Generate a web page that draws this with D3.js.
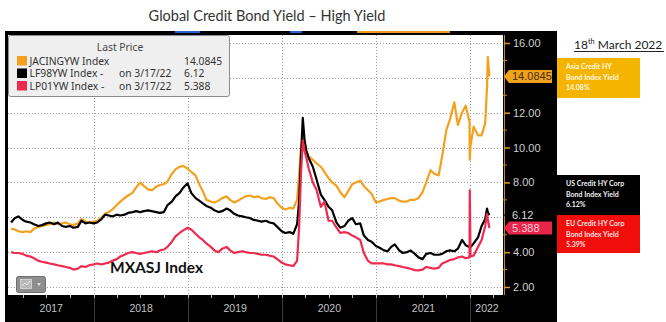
<!DOCTYPE html>
<html>
<head>
<meta charset="utf-8">
<script src="https://cdn.jsdelivr.net/npm/d3@7"></script>
<style>
  html, body { margin: 0; padding: 0; background: #fff; }
  svg { display: block; }
</style>
</head>
<body>
<svg id="chart" width="666" height="322"></svg>
<script>
// Semi-monthly observations, Feb 2017 – 17 Mar 2022
const dates = [
  "2017-02-15","2017-03-01","2017-03-15","2017-04-01","2017-04-15","2017-05-01","2017-05-15","2017-06-01","2017-06-15","2017-07-01","2017-07-15","2017-08-01","2017-08-15","2017-09-01","2017-09-15","2017-10-01","2017-10-15","2017-11-01","2017-11-15","2017-12-01","2017-12-15",
  "2018-01-01","2018-01-15","2018-02-01","2018-02-15","2018-03-01","2018-03-15","2018-04-01","2018-04-15","2018-05-01","2018-05-15","2018-06-01","2018-06-15","2018-07-01","2018-07-15","2018-08-01","2018-08-15","2018-09-01","2018-09-15","2018-10-01","2018-10-15","2018-11-01","2018-11-15","2018-12-01","2018-12-15",
  "2019-01-01","2019-01-15","2019-02-01","2019-02-15","2019-03-01","2019-03-15","2019-04-01","2019-04-15","2019-05-01","2019-05-15","2019-06-01","2019-06-15","2019-07-01","2019-07-15","2019-08-01","2019-08-15","2019-09-01","2019-09-15","2019-10-01","2019-10-15","2019-11-01","2019-11-15","2019-12-01","2019-12-15",
  "2020-01-01","2020-01-15","2020-02-01","2020-02-15","2020-03-01","2020-03-09","2020-03-16","2020-03-23","2020-03-30","2020-04-06","2020-04-15","2020-05-01","2020-05-15","2020-06-01","2020-06-15","2020-07-01","2020-07-15","2020-08-01","2020-08-15","2020-09-01","2020-09-15","2020-10-01","2020-10-15","2020-11-01","2020-11-15","2020-12-01","2020-12-15",
  "2021-01-01","2021-01-15","2021-02-01","2021-02-15","2021-03-01","2021-03-15","2021-04-01","2021-04-15","2021-05-01","2021-05-15","2021-06-01","2021-06-15","2021-07-01","2021-07-15","2021-08-01","2021-08-15","2021-09-01","2021-09-15","2021-10-01","2021-10-15","2021-11-01","2021-11-15","2021-12-01","2021-12-15","2021-12-30","2021-12-31",
  "2022-01-03","2022-01-15","2022-02-01","2022-02-15","2022-03-01","2022-03-08","2022-03-11","2022-03-17"
];

// JACINGYW Index – Asia credit HY yield
const asiaHY = [
  5.35,5.3,5.2,5.15,5.2,5.15,5.35,5.45,5.5,5.55,5.6,5.7,5.6,5.65,5.7,5.6,5.55,5.65,5.9,5.75,5.7,
  5.75,5.8,6.0,6.2,6.3,6.45,6.7,6.9,7.1,7.25,7.4,7.7,8.0,7.8,7.6,7.55,7.75,7.85,7.9,8.05,8.5,8.75,8.9,8.95,
  8.8,8.6,8.4,7.9,7.5,7.0,6.9,6.85,6.95,7.1,7.2,7.0,6.85,6.95,7.1,7.2,7.25,7.15,7.2,7.1,7.05,7.15,7.1,6.8,
  6.55,6.45,6.55,6.5,7.0,8.5,10.0,10.6,10.4,9.8,9.5,9.3,9.1,8.9,8.6,8.25,8.0,7.8,7.45,7.15,7.5,7.9,8.0,8.1,7.8,7.55,7.35,
  6.85,6.9,7.0,7.05,7.1,7.1,6.95,6.9,6.9,7.0,7.0,7.1,7.45,8.0,8.7,8.5,8.4,9.5,11.0,11.6,12.6,11.3,12.0,12.4,11.5,9.3,
  10.1,11.2,10.7,10.7,11.4,13.5,15.2,14.0845
];

// LF98YW Index – US corporate HY yield
const usHY = [
  5.7,5.95,6.05,5.85,5.75,5.7,5.6,5.5,5.55,5.65,5.7,5.6,5.7,5.5,5.45,5.5,5.4,5.45,5.8,5.65,5.7,
  5.65,5.7,5.9,6.15,6.1,6.05,6.15,6.1,6.15,6.25,6.3,6.35,6.3,6.35,6.4,6.35,6.3,6.25,6.3,6.7,6.9,7.2,7.4,7.7,
  7.95,7.4,7.1,6.95,6.8,6.65,6.55,6.4,6.3,6.35,6.5,6.4,6.2,6.1,6.05,6.0,5.95,5.85,5.8,5.75,5.8,5.7,5.65,5.45,
  5.2,5.1,5.15,5.05,5.6,7.0,9.5,11.7,10.4,9.8,9.4,8.9,8.2,7.3,7.0,6.6,6.4,5.7,5.4,5.5,5.8,5.95,5.6,5.65,4.95,4.7,4.6,
  4.35,4.25,4.1,4.05,4.3,4.45,4.1,3.95,4.0,4.1,3.9,3.7,3.6,3.9,3.95,3.85,3.85,3.9,4.05,4.1,4.05,4.2,4.7,4.4,4.3,4.3,
  4.3,4.5,4.85,5.5,5.9,6.5,6.3,6.12
];

// LP01YW Index – EU corporate HY yield
const euHY = [
  4.0,3.95,3.95,3.9,3.8,3.75,3.65,3.5,3.45,3.4,3.35,3.3,3.25,3.2,3.15,3.1,3.0,3.05,3.2,3.15,3.25,
  3.3,3.35,3.3,3.35,3.4,3.5,3.6,3.75,3.85,3.95,4.0,3.95,3.9,3.95,4.0,4.05,4.0,4.1,4.15,4.3,4.6,4.9,5.1,5.25,
  5.4,5.3,5.05,4.85,4.7,4.5,4.3,4.1,4.0,4.2,4.3,4.1,3.95,4.0,4.05,4.0,3.95,3.95,3.9,3.85,3.85,3.8,3.75,3.6,
  3.4,3.3,3.25,3.2,3.5,5.5,8.5,10.4,9.8,9.4,8.8,8.0,7.6,6.6,6.9,5.8,5.8,5.4,5.1,5.15,5.1,4.95,4.85,4.7,3.95,3.5,3.35,
  3.35,3.35,3.35,3.3,3.3,3.25,3.2,3.15,3.1,3.05,2.97,2.95,3.0,3.15,3.1,3.05,3.1,3.35,3.45,3.55,3.6,3.7,3.75,3.65,3.7,7.55,
  3.75,3.8,4.3,4.7,5.5,6.2,5.9,5.388
];

const yearLabels = ["2017","2018","2019","2020","2021","2022"];
const yTicks = [2, 4, 8, 10, 12, 16];
const gridValues = [2, 4, 6, 8, 10, 12, 14, 16];

const seriesNames = ["JACINGYW Index", "LF98YW Index -", "LP01YW Index -"];
const seriesDates = ["", "on 3/17/22", "on 3/17/22"];
const lastValues = ["14.0845", "6.12", "5.388"];
const colors = ["#f3a11c", "#000000", "#ef2a4f"];

const parse = d3.timeParse("%Y-%m-%d");
const svg = d3.select("#chart");

// Plot frame geometry
const plot = { left: 8, right: 503, top: 35, bottom: 295 };

const x = d3.scaleTime()
  .domain([parse("2017-02-03"), parse("2022-05-09")])
  .range([plot.left, plot.right]);
const y = d3.scaleLinear().domain([2, 16]).range([287, 43]);

// Title
svg.append("text")
  .attr("x", 267).attr("y", 21)
  .attr("text-anchor", "middle")
  .attr("font-family", "Lato, 'Open Sans', sans-serif")
  .attr("font-size", 14.5)
  .attr("fill", "#333")
  .text("Global Credit Bond Yield \u2013 High Yield");

// Black terminal frame
svg.append("rect").attr("x", 5).attr("y", 31).attr("width", 552).attr("height", 291).attr("fill", "#000");
// Tab highlights along the top edge
[[175, 200, "#2f5fd0"], [290, 302, "#2f5fd0"], [357, 450, "#e89a1c"]].forEach(([a, b, c]) => {
  svg.append("rect").attr("x", a).attr("y", 31).attr("width", b - a).attr("height", 2).attr("fill", c);
});

// Plot area
svg.append("rect")
  .attr("x", plot.left).attr("y", plot.top)
  .attr("width", plot.right - plot.left).attr("height", plot.bottom - plot.top)
  .attr("fill", "#fff");

svg.append("clipPath").attr("id", "clip")
  .append("rect")
  .attr("x", plot.left).attr("y", plot.top)
  .attr("width", plot.right - plot.left).attr("height", plot.bottom - plot.top);

// Grid
const yearStarts = d3.timeYear.range(parse("2018-01-01"), parse("2022-01-02"));
const grid = svg.append("g").attr("clip-path", "url(#clip)")
  .attr("stroke", "#9a9a9a").attr("stroke-width", 1).attr("stroke-dasharray", "1,2");
grid.selectAll("line.h").data(gridValues).join("line")
  .attr("x1", plot.left).attr("x2", plot.right)
  .attr("y1", d => Math.round(y(d)) + 0.5).attr("y2", d => Math.round(y(d)) + 0.5);
grid.selectAll("line.v").data(yearStarts).join("line")
  .attr("x1", d => Math.round(x(d)) + 0.5).attr("x2", d => Math.round(x(d)) + 0.5)
  .attr("y1", plot.top).attr("y2", plot.bottom);

// Series lines
const rows = dates.map((d, i) => ({ date: parse(d), a: asiaHY[i], u: usHY[i], e: euHY[i] }));
const lines = svg.append("g").attr("clip-path", "url(#clip)");
["a", "u", "e"].forEach((k, i) => {
  lines.append("path")
    .datum(rows)
    .attr("fill", "none")
    .attr("stroke", colors[i])
    .attr("stroke-width", 2.2)
    .attr("stroke-linejoin", "round")
    .attr("d", d3.line().x(d => x(d.date)).y(d => y(d[k])));
});

// Right value axis
const yAxis = d3.axisRight(y)
  .tickValues(yTicks)
  .tickFormat(d3.format(".2f"))
  .tickSize(6).tickPadding(3);
const gy = svg.append("g").attr("transform", `translate(${plot.right + 1},0)`).call(yAxis);
gy.select(".domain").attr("stroke", "#c98a1e").attr("d", `M0.5,${plot.top}V${plot.bottom}`);
gy.selectAll(".tick line").attr("stroke", "#e09a20").attr("stroke-width", 1.5);
gy.selectAll(".tick text")
  .attr("fill", "#cfcfcf")
  .attr("font-family", "'Liberation Sans', Arial, sans-serif")
  .attr("font-size", 11);
// Minor ticks at odd values
gy.selectAll("line.minor").data([3, 5, 7, 9, 11, 13, 15]).join("line")
  .attr("x1", -1).attr("x2", 3)
  .attr("y1", d => y(d)).attr("y2", d => y(d))
  .attr("stroke", "#c98a1e").attr("stroke-width", 1);

// Last-price tags on the value axis
const tags = [
  { v: +lastValues[0], text: lastValues[0], fill: "#f0a21e", color: "#4a2e00" },
  { v: +lastValues[1], text: lastValues[1], fill: "#000", color: "#d8d8d8" },
  { v: +lastValues[2], text: lastValues[2], fill: "#e8254a", color: "#ffd0da" }
];
const tagG = svg.append("g");
tags.forEach(t => {
  const cy = y(t.v), x0 = plot.right + 1, x1 = 552, h = 13;
  tagG.append("path")
    .attr("d", `M${x0},${cy} L${x0 + 5},${cy - h / 2} H${x1} V${cy + h / 2} H${x0 + 5} Z`)
    .attr("fill", t.fill);
  tagG.append("text")
    .attr("x", 512).attr("y", cy + 4)
    .attr("font-family", "'Liberation Sans', Arial, sans-serif")
    .attr("font-size", 11)
    .attr("fill", t.color)
    .text(t.text);
});

// Year axis along the bottom band
const yearMid = yearLabels.map(yr => {
  const s = Math.max(+parse(yr + "-01-01"), +x.domain()[0]);
  const e = Math.min(+parse((+yr + 1) + "-01-01"), +x.domain()[1]);
  return new Date((s + e) / 2);
});
const xAxis = d3.axisBottom(x).tickValues(yearMid).tickFormat(d3.timeFormat("%Y")).tickSize(0).tickPadding(10);
const gx = svg.append("g").attr("transform", `translate(0,${plot.bottom})`).call(xAxis);
gx.select(".domain").remove();
gx.selectAll(".tick text")
  .attr("fill", "#c4c4c4")
  .attr("font-family", "'Liberation Sans', Arial, sans-serif")
  .attr("font-size", 10.5);
// Year separators and quarter ticks in the band
svg.append("g").selectAll("line").data(yearStarts).join("line")
  .attr("x1", d => Math.round(x(d)) + 0.5).attr("x2", d => Math.round(x(d)) + 0.5)
  .attr("y1", plot.bottom).attr("y2", 322)
  .attr("stroke", "#3a3a3a");
const quarters = d3.timeMonth.every(3).range(x.domain()[0], x.domain()[1]);
svg.append("g").selectAll("line").data(quarters).join("line")
  .attr("x1", d => Math.round(x(d)) + 0.5).attr("x2", d => Math.round(x(d)) + 0.5)
  .attr("y1", plot.bottom).attr("y2", plot.bottom + 3)
  .attr("stroke", "#bbb");

// Legend box
const lg = svg.append("g");
const legendFont = "'Noto Sans', sans-serif";
lg.append("rect").attr("x", 8.5).attr("y", 35.5).attr("width", 221).attr("height", 61)
  .attr("rx", 2).attr("fill", "#efefef").attr("stroke", "#8c8c8c");
lg.append("text").attr("x", 120).attr("y", 51).attr("text-anchor", "middle")
  .attr("font-family", legendFont).attr("font-size", 10.3).attr("fill", "#444")
  .text("Last Price");
seriesNames.forEach((name, i) => {
  const by = 64.5 + i * 12.5;
  lg.append("rect").attr("x", 17).attr("y", by - 8.5).attr("width", 10).attr("height", 9.5).attr("fill", colors[i]);
  lg.append("text").attr("x", 29.5).attr("y", by)
    .attr("font-family", legendFont).attr("font-size", 10.3).attr("fill", "#333")
    .text(name);
  lg.append("text").attr("x", 119).attr("y", by)
    .attr("font-family", legendFont).attr("font-size", 10.3).attr("fill", "#333")
    .text(seriesDates[i]);
  lg.append("text").attr("x", 184).attr("y", by)
    .attr("font-family", legendFont).attr("font-size", 10.3).attr("fill", "#333")
    .text(lastValues[i]);
});

// Ticker caption inside the plot
svg.append("text").attr("x", 110).attr("y", 273)
  .attr("font-family", "Lato, 'Open Sans', sans-serif").attr("font-weight", 700)
  .attr("font-size", 15.5).attr("fill", "#111")
  .text("MXASJ Index");

// Chart-type menu button
const btn = svg.append("g");
btn.append("rect").attr("x", 16.5).attr("y", 276.5).attr("width", 29).attr("height", 16).attr("rx", 2)
  .attr("fill", "#8e8e8e").attr("stroke", "#6e6e6e");
btn.append("rect").attr("x", 20.5).attr("y", 279.5).attr("width", 11).attr("height", 9)
  .attr("fill", "#b8b8b8").attr("stroke", "#ddd").attr("stroke-width", 0.8);
btn.append("path").attr("d", "M22,286 L25,283 L27,285 L30,281").attr("fill", "none").attr("stroke", "#fff").attr("stroke-width", 0.8);
btn.append("path").attr("d", "M37,283 L41,283 L39,286 Z").attr("fill", "#ddd");

// Date note
const note = svg.append("text").attr("x", 574).attr("y", 49)
  .attr("font-family", "Lato, 'Open Sans', sans-serif").attr("font-size", 12).attr("fill", "#222");
note.append("tspan").text("18");
note.append("tspan").attr("font-size", 7.5).attr("dy", -5).text("th");
note.append("tspan").attr("dy", 5).text(" March 2022");
svg.append("line").attr("x1", 574).attr("x2", 664).attr("y1", 51.5).attr("y2", 51.5)
  .attr("stroke", "#222").attr("stroke-width", 1);

// Annotation boxes
const notes = [
  { y0: 58, y1: 98, fill: "#f5b400", color: "#fff8e0", lines: ["Asia Credit HY", "Bond Index Yield", "14.08%"] },
  { y0: 175, y1: 215, fill: "#000", color: "#f2f2f2", lines: ["US Credit HY Corp", "Bond Index Yield", "6.12%"] },
  { y0: 215, y1: 253, fill: "#f20d0d", color: "#ffe0e0", lines: ["EU Credit HY Corp", "Bond Index Yield", "5.39%"] }
];
notes.forEach(n => {
  svg.append("rect").attr("x", 557).attr("y", n.y0).attr("width", 83).attr("height", n.y1 - n.y0).attr("fill", n.fill);
  n.lines.forEach((t, j) => {
    svg.append("text").attr("x", 566).attr("y", n.y0 + 11 + j * 10.5)
      .attr("font-family", "Lato, 'Open Sans', sans-serif").attr("font-weight", 700)
      .attr("font-size", 7).attr("fill", n.color)
      .text(t);
  });
});
</script>
</body>
</html>
